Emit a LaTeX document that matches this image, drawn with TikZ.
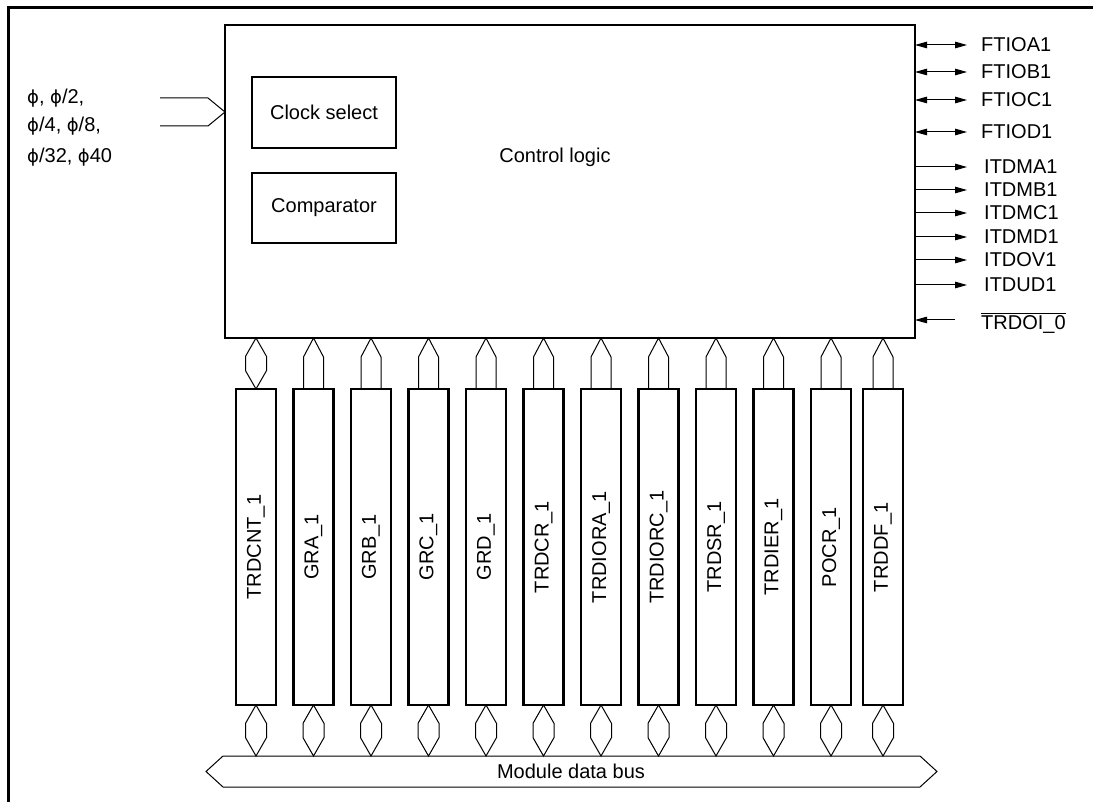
\documentclass[tikz,border=0pt]{standalone}
\usepackage{fontspec}
\setmainfont{Liberation Sans}
\newfontfamily\phifont{DejaVu Sans}
\usetikzlibrary{arrows.meta,positioning,calc}

\newcommand{\ph}{{\phifont\fontsize{18}{23}\selectfont ϕ}}
\newcommand{\bidir}[2]{%
  \draw[conn] (#1) -- ($(#1)!0.36!(#2)+(-10.5,0)$) -- ($(#1)!0.64!(#2)+(-10.5,0)$)
    -- (#2) -- ($(#1)!0.64!(#2)+(10.5,0)$) -- ($(#1)!0.36!(#2)+(10.5,0)$) -- cycle;}

\begin{document}
\begin{tikzpicture}[x=1pt,y=-1pt,
  font={\fontsize{20}{23}\selectfont},
  block/.style={draw,line width=2.5pt,outer sep=0pt,inner sep=0pt,align=center},
  reg/.style={block,minimum width=40pt,minimum height=316pt},
  conn/.style={line width=1pt},
  sig/.style={anchor=west,inner sep=0pt},
  >={Triangle[length=12pt,width=6.5pt]}, node distance=17.5pt]
\useasboundingbox (0,0) rectangle (1093,802);
\draw[line width=3pt] (1093,8) -- (8,8) -- (8,802);

\node[block,minimum width=690pt,minimum height=313pt] (ctl) at (570,181.5) {};
\node (ctltxt) at (555,157) {Control logic};
\node[block,minimum width=144pt,minimum height=71pt] (clksel) at (324,112.5) {Clock select};
\node[block,minimum width=144pt,minimum height=70pt,below=25pt of clksel] (cmp) {Comparator};

\node[anchor=west,inner sep=0pt] (phiA) at (27,98) {\ph, \ph/2,};
\node[anchor=west,inner sep=0pt] (phiB) at (27,126) {\ph/4, \ph/8,};
\node[anchor=west,inner sep=0pt] (phiC) at (27,157) {\ph/32, \ph40};
\coordinate (clkA) at (160,98);
\coordinate (clkB) at (160,126);
\coordinate (clkin) at (ctl.west |- 0,112);
\draw[conn] (clkA) -- ++(48,0) -- (clkin) -- ($(clkB)+(48,0)$) -- (clkB);

\node[reg] (trdcnt) at (256,547) {\rotatebox{90}{TRDCNT\_1}};
\node[reg,right=of trdcnt] (gra) {\rotatebox{90}{GRA\_1}};
\node[reg,right=of gra] (grb) {\rotatebox{90}{GRB\_1}};
\node[reg,right=of grb] (grc) {\rotatebox{90}{GRC\_1}};
\node[reg,right=of grc] (grd) {\rotatebox{90}{GRD\_1}};
\node[reg,right=of grd] (trdcr) {\rotatebox{90}{TRDCR\_1}};
\node[reg,right=of trdcr] (trdiora) {\rotatebox{90}{TRDIORA\_1}};
\node[reg,right=of trdiora] (trdiorc) {\rotatebox{90}{TRDIORC\_1}};
\node[reg,right=of trdiorc] (trdsr) {\rotatebox{90}{TRDSR\_1}};
\node[reg,right=of trdsr] (trdier) {\rotatebox{90}{TRDIER\_1}};
\node[reg,right=of trdier] (pocr) {\rotatebox{90}{POCR\_1}};
\node[reg,right=12pt of pocr] (trddf) {\rotatebox{90}{TRDDF\_1}};

\coordinate (ttrdcnt) at (trdcnt.north |- ctl.south);
\bidir{trdcnt.north}{ttrdcnt}
\foreach \r in {gra,grb,grc,grd,trdcr,trdiora,trdiorc,trdsr,trdier,pocr,trddf}
  \draw[conn] ([xshift=-10pt]\r.north) -- ++(0,-32) -- (\r.north |- ctl.south)
    -- ($([xshift=10pt]\r.north)+(0,-32)$) -- ([xshift=10pt]\r.north);

\coordinate (bustop) at (571,756);
\draw[conn] (223,756) -- (920,756) -- (937,771.5) -- (920,787) -- (223,787) -- (206,771.5) -- cycle;
\node (bus) at (571,771.5) {Module data bus};
\foreach \r in {trdcnt,gra,grb,grc,grd,trdcr,trdiora,trdiorc,trdsr,trdier,pocr,trddf}{
  \coordinate (b\r) at (\r.south |- bustop);
  \bidir{\r.south}{b\r}
}

\foreach \s/\y in {FTIOA1/45,FTIOB1/72,FTIOC1/100,FTIOD1/132}{
  \node[sig] (\s) at (981,\y) {\s};
  \draw[conn,<->] (ctl.east |- \s.west) -- ([xshift=-14pt]\s.west);
}
\foreach \s/\y in {ITDMA1/167,ITDMB1/190,ITDMC1/213,ITDMD1/237,ITDOV1/260,ITDUD1/285}{
  \node[sig] (\s) at (984,\y) {\s};
  \draw[conn,->] (ctl.east |- \s.west) -- ([xshift=-17pt]\s.west);
}
\node[sig,anchor=base west] (trdoi) at (981,330) {\vbox{\hrule height 1pt\kern2.5pt\hbox{TRDOI\_0}}};
\coordinate (trdoiin) at (955,320);
\draw[conn,->] (trdoiin) -- (ctl.east |- trdoiin);
\end{tikzpicture}
\end{document}
